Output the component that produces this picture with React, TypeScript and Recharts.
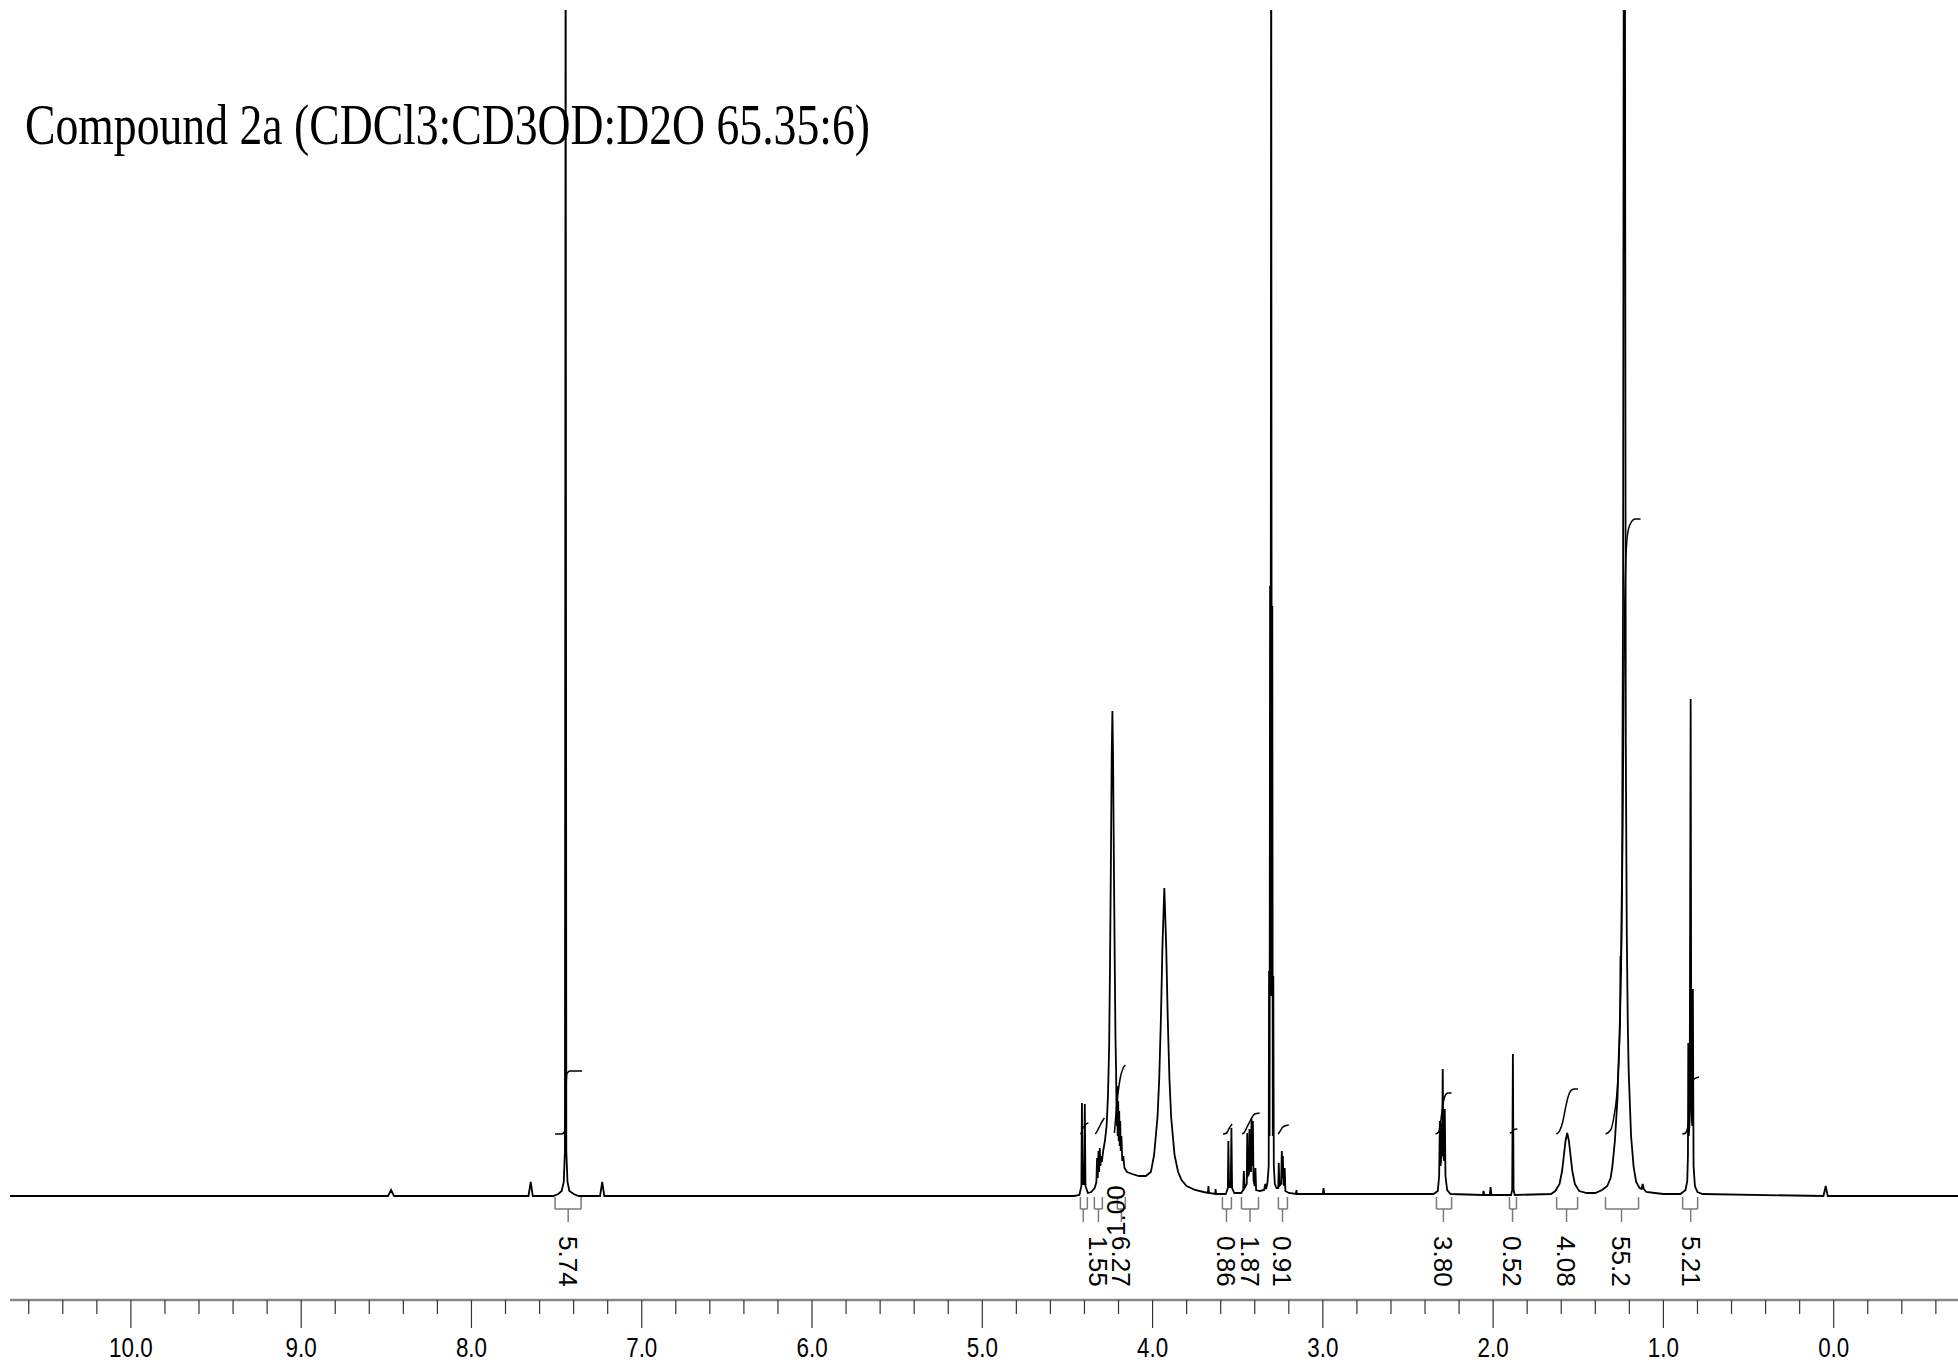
import React from 'react';
import { ComposedChart, Line, XAxis, YAxis, ReferenceLine, ReferenceDot } from 'recharts';

// 1H NMR trace: [shift in ppm, signal height above baseline]
const spectrumPoints: [number, number][] = [
  [10.72, 0], [8.49, 0], [8.472, 6], [8.455, 0],
  [7.665, 0], [7.652, 14], [7.64, 0],
  [7.52, 0], [7.49, 2], [7.47, 5], [7.458, 14], [7.451, 45], [7.447, 1400], [7.443, 45], [7.436, 14], [7.425, 5], [7.4, 2], [7.37, 0],
  [7.245, 0], [7.232, 14], [7.22, 0],
  [4.46, 0], [4.43, 1], [4.418, 10], [4.415, 93], [4.411, 12], [4.402, 12], [4.398, 92], [4.394, 10], [4.38, 3],
  [4.36, 4], [4.34, 8], [4.33, 14], [4.326, 38], [4.322, 18], [4.318, 45], [4.314, 24], [4.31, 48], [4.306, 30], [4.302, 40], [4.298, 34],
  [4.29, 45], [4.28, 55], [4.27, 70], [4.262, 100], [4.255, 150], [4.25, 230], [4.245, 330], [4.24, 440], [4.236, 485], [4.232, 440],
  [4.227, 330], [4.222, 230], [4.218, 160], [4.214, 123], [4.211, 70], [4.208, 110], [4.205, 60], [4.202, 95], [4.199, 55], [4.196, 85],
  [4.193, 50], [4.19, 75], [4.187, 45], [4.183, 60], [4.178, 35], [4.172, 40], [4.165, 28], [4.15, 24], [4.12, 22], [4.08, 20], [4.04, 20],
  [4.01, 24], [3.991, 41], [3.971, 79], [3.961, 117], [3.951, 178], [3.942, 250], [3.931, 308], [3.92, 250], [3.911, 178], [3.901, 117],
  [3.891, 79], [3.871, 41], [3.85, 24], [3.83, 16], [3.8, 10], [3.75, 6], [3.7, 4],
  [3.675, 3], [3.672, 10], [3.669, 3], [3.632, 2], [3.63, 7], [3.627, 2],
  [3.57, 2], [3.558, 8], [3.555, 55], [3.551, 9], [3.541, 9], [3.537, 68], [3.533, 8], [3.52, 3],
  [3.48, 3], [3.468, 6], [3.464, 25], [3.46, 8], [3.447, 12], [3.444, 63], [3.441, 20], [3.434, 22], [3.431, 67], [3.427, 25],
  [3.422, 25], [3.419, 77], [3.415, 30], [3.411, 75], [3.407, 15], [3.4, 10], [3.396, 28], [3.392, 6], [3.37, 5],
  [3.345, 6], [3.338, 12], [3.333, 7],
  [3.325, 14], [3.318, 30], [3.316, 225], [3.313, 60], [3.31, 610], [3.307, 200], [3.3035, 1400], [3.3, 200], [3.297, 590],
  [3.294, 60], [3.291, 220], [3.288, 30], [3.282, 12], [3.272, 8],
  [3.262, 8], [3.259, 33], [3.255, 10], [3.245, 12], [3.241, 45], [3.238, 18], [3.235, 40], [3.231, 12], [3.226, 10], [3.224, 28],
  [3.22, 5], [3.2, 3], [3.158, 2], [3.155, 6], [3.152, 2], [3.0, 2], [2.996, 8], [2.992, 2],
  [2.35, 2], [2.325, 5], [2.317, 20], [2.313, 75], [2.309, 30], [2.306, 35], [2.303, 73], [2.3, 40], [2.296, 127], [2.292, 40],
  [2.288, 35], [2.284, 87], [2.28, 20], [2.27, 6], [2.25, 2],
  [2.06, 1], [2.056, 5], [2.052, 1], [2.02, 1], [2.015, 9], [2.01, 1],
  [1.895, 1], [1.888, 6], [1.884, 142], [1.88, 6], [1.873, 1],
  [1.66, 2], [1.635, 5], [1.61, 12], [1.595, 25], [1.585, 40], [1.575, 55], [1.565, 63], [1.555, 55], [1.545, 40], [1.535, 25],
  [1.52, 12], [1.495, 5], [1.45, 3],
  [1.4, 3], [1.36, 6], [1.33, 10], [1.31, 18], [1.3, 29], [1.285, 55], [1.27, 97], [1.262, 140], [1.255, 178], [1.252, 240],
  [1.25, 222], [1.247, 268], [1.243, 320], [1.237, 600], [1.232, 1400], [1.227, 1400], [1.221, 450], [1.215, 260], [1.209, 170],
  [1.204, 125], [1.19, 60], [1.175, 29], [1.16, 14], [1.14, 8], [1.128, 7], [1.122, 12], [1.115, 7], [1.1, 4], [1.05, 3], [1.0, 2],
  [0.9, 2], [0.87, 6], [0.86, 15], [0.856, 40], [0.854, 153], [0.851, 60], [0.846, 75], [0.84, 497], [0.836, 90], [0.831, 70],
  [0.827, 207], [0.823, 30], [0.815, 10], [0.8, 4], [0.77, 2],
  [0.06, 0], [0.047, 10], [0.035, 0], [-0.74, 0],
];

// integral curves, same units
const integralCurves: [number, number][][] = [
  [[7.509, 62], [7.47, 62], [7.455, 64], [7.449, 75], [7.446, 94], [7.443, 115], [7.438, 123], [7.42, 125], [7.35, 125]],
  [[4.424, 62], [4.416, 64], [4.41, 68], [4.4, 70], [4.39, 72], [4.377, 73]],
  [[4.336, 62], [4.325, 65], [4.31, 70], [4.295, 75], [4.283, 78]],
  [[4.224, 63], [4.216, 80], [4.205, 100], [4.19, 118], [4.175, 127], [4.16, 131]],
  [[3.586, 62], [3.565, 63], [3.555, 66], [3.545, 69], [3.537, 71], [3.533, 72]],
  [[3.474, 62], [3.46, 64], [3.445, 69], [3.43, 74], [3.415, 79], [3.4, 82], [3.371, 83]],
  [[3.263, 62], [3.25, 65], [3.24, 68], [3.225, 70], [3.2, 71]],
  [[2.338, 62], [2.32, 64], [2.31, 72], [2.3, 85], [2.29, 96], [2.28, 101], [2.265, 103], [2.244, 103]],
  [[1.902, 63], [1.89, 63.5], [1.884, 65], [1.878, 66.5], [1.858, 67]],
  [[1.629, 62], [1.61, 65], [1.59, 75], [1.575, 88], [1.56, 99], [1.545, 105], [1.525, 107], [1.502, 107]],
  [[1.34, 62], [1.31, 66], [1.29, 80], [1.27, 110], [1.255, 170], [1.245, 260], [1.238, 380], [1.233, 500], [1.228, 580],
    [1.222, 630], [1.212, 660], [1.195, 672], [1.165, 677], [1.134, 677]],
  [[0.889, 62], [0.87, 63], [0.858, 68], [0.848, 80], [0.84, 100], [0.832, 112], [0.82, 117], [0.791, 119]],
];

// integration brackets: [from, to, stem] in ppm, and printed values
const bracketRanges: [number, number, number][] = [
  [7.509, 7.356, 7.432], [4.424, 4.383, 4.407], [4.342, 4.295, 4.318], [4.207, 4.16, 4.183],
  [3.59, 3.537, 3.566], [3.478, 3.378, 3.428], [3.261, 3.208, 3.237], [2.333, 2.244, 2.292],
  [1.904, 1.863, 1.886], [1.627, 1.504, 1.569], [1.34, 1.146, 1.246], [0.887, 0.799, 0.84],
];
const integralValues = ['5.74', '1.00', '1.55', '16.27', '0.86', '1.87', '0.91', '3.80', '0.52', '4.08', '55.2', '5.21'];
// where each value is printed (ppm) – the 4.41 one got pushed next to its neighbour
const labelPpm = [7.432, 4.213, 4.318, 4.183, 3.566, 3.428, 3.237, 2.292, 1.886, 1.569, 1.246, 0.84];
const labelText = ['5.74', '1.00', '1.55', '6.27', '0.86', '1.87', '0.91', '3.80', '0.52', '4.08', '55.2', '5.21'];

const majorTicks = [10, 9, 8, 7, 6, 5, 4, 3, 2, 1, 0];
const tickLabels = ['10.0', '9.0', '8.0', '7.0', '6.0', '5.0', '4.0', '3.0', '2.0', '1.0', '0.0'];

const W = 1958;
const H = 1366;
const minorTicks: number[] = [];
for (let k = -3; k <= 53; k++) minorTicks.push(Math.round(k * 2) / 10);

const toRows = (pts: [number, number][]) => pts.map(([ppm, h]) => ({ ppm, h }));
const spectrum = toRows(spectrumPoints);

const AxisTick = (props: any) => {
  const { x, y, payload } = props;
  const idx = majorTicks.findIndex((m) => Math.abs(m - payload.value) < 1e-6);
  if (idx >= 0) {
    return (
      <g>
        <line x1={x} x2={x} y1={y} y2={y + 28} stroke="#333" strokeWidth={1.2} />
        <text
          transform={`translate(${x},${y + 57}) scale(0.8,1)`}
          textAnchor="middle"
          fontFamily="'Liberation Sans', Arial, sans-serif"
          fontSize={28}
          fill="#000"
        >
          {tickLabels[idx]}
        </text>
      </g>
    );
  }
  return <line x1={x} x2={x} y1={y} y2={y + 14} stroke="#333" strokeWidth={1.2} />;
};

const valueLabel = (text: string, flip: boolean) => (p: any) => (
  <text
    transform={`translate(${p.cx},${p.cy}) rotate(${flip ? -90 : 90})`}
    dy="0.35em"
    fontFamily="'Liberation Sans', Arial, sans-serif"
    fontSize={26}
    fill="#000"
  >
    {text}
  </text>
);

export default function App() {
  const gray = '#7a7a7a';
  return (
    <div style={{ position: 'absolute', left: 0, top: 0, width: W, height: H, background: '#fff' }}>
      <ComposedChart width={W} height={H} margin={{ top: 10, right: 0, left: 10, bottom: 0 }}>
        <XAxis
          type="number"
          dataKey="ppm"
          domain={[-0.73, 10.71]}
          reversed
          allowDataOverflow
          ticks={minorTicks}
          interval={0}
          height={66}
          tickSize={0}
          tickMargin={0}
          tickLine={false}
          axisLine={{ stroke: '#888', strokeWidth: 2.5 }}
          tick={<AxisTick />}
        />
        <YAxis hide type="number" domain={[-104, 1186]} allowDataOverflow />
        <Line
          data={spectrum}
          dataKey="h"
          type="linear"
          stroke="#000"
          strokeWidth={1.8}
          dot={false}
          activeDot={false}
          isAnimationActive={false}
        />
        {integralCurves.map((c, i) => (
          <Line
            key={`int-${i}`}
            data={toRows(c)}
            dataKey="h"
            type="monotone"
            stroke="#000"
            strokeWidth={1.5}
            dot={false}
            activeDot={false}
            isAnimationActive={false}
          />
        ))}
        {bracketRanges.map(([a, b, s], i) => (
          <React.Fragment key={`br-${i}`}>
            <ReferenceLine segment={[{ x: a, y: -1 }, { x: a, y: -13 }]} stroke={gray} strokeWidth={1.5} ifOverflow="visible" />
            <ReferenceLine segment={[{ x: a, y: -13 }, { x: b, y: -13 }]} stroke={gray} strokeWidth={1.5} ifOverflow="visible" />
            <ReferenceLine segment={[{ x: b, y: -1 }, { x: b, y: -13 }]} stroke={gray} strokeWidth={1.5} ifOverflow="visible" />
            <ReferenceLine segment={[{ x: s, y: -13 }, { x: s, y: -26 }]} stroke={gray} strokeWidth={1.5} ifOverflow="visible" />
          </React.Fragment>
        ))}
        {labelPpm.map((p, i) => (
          <ReferenceDot
            key={`lb-${i}`}
            x={p}
            y={-40}
            r={0}
            ifOverflow="visible"
            shape={valueLabel(labelText[i], integralValues[i] === '1.00')}
          />
        ))}
      </ComposedChart>
      <svg width={W} height={200} style={{ position: 'absolute', left: 0, top: 0, pointerEvents: 'none' }}>
        <text
          x={25}
          y={144}
          fontFamily="'Liberation Serif', 'Times New Roman', serif"
          fontSize={57}
          textLength={845}
          lengthAdjust="spacingAndGlyphs"
          fill="#000"
        >
          Compound 2a (CDCl3:CD3OD:D2O 65.35:6)
        </text>
      </svg>
    </div>
  );
}
